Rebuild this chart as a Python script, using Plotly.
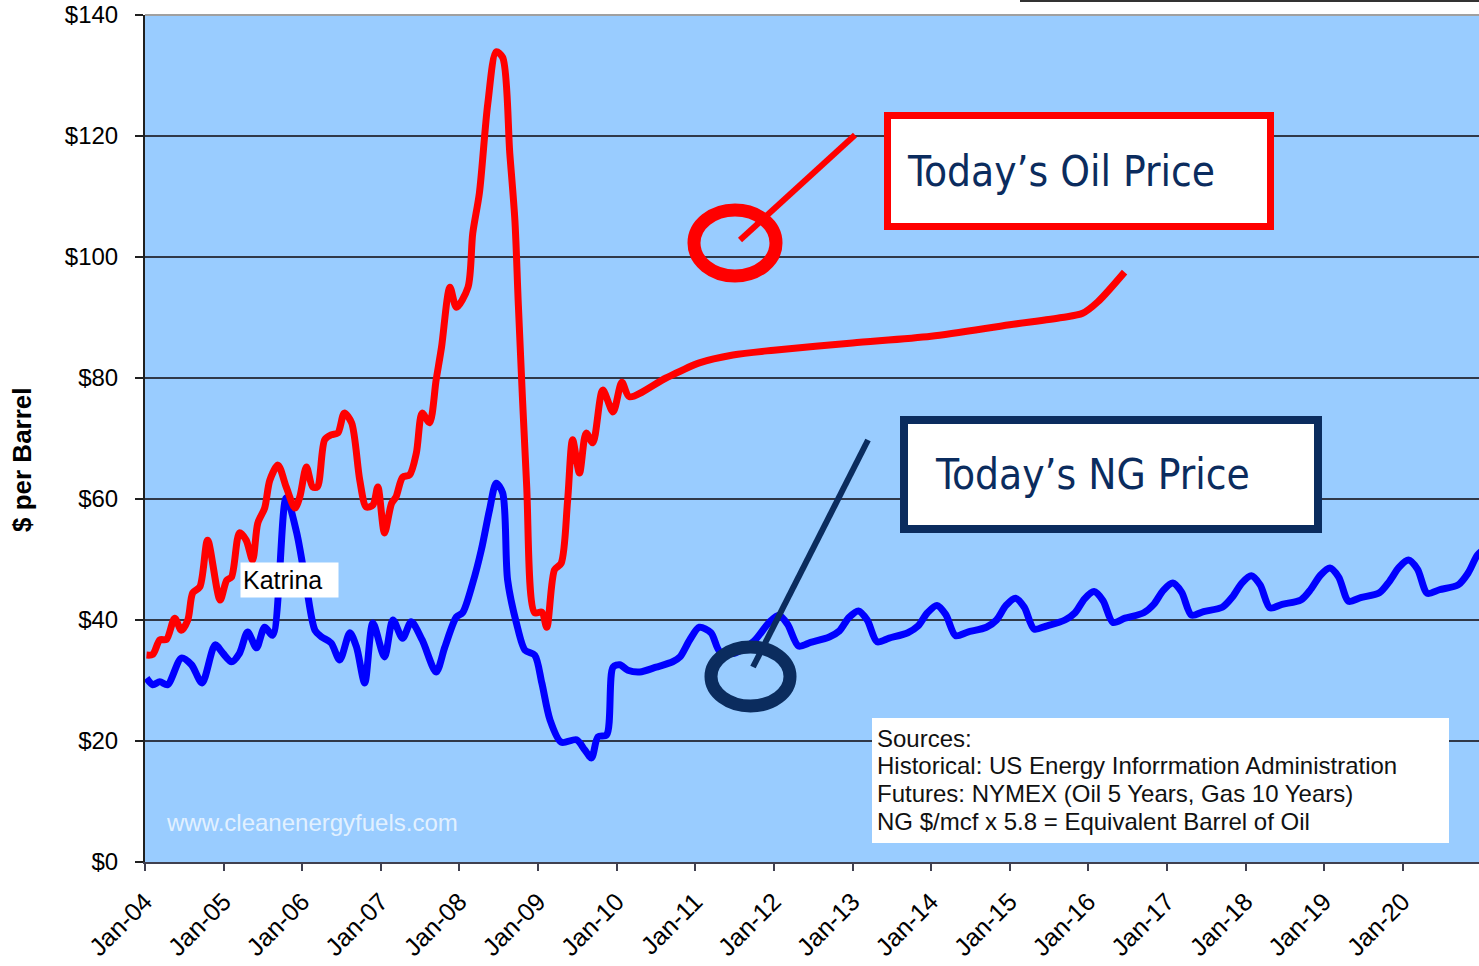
import plotly.graph_objects as go

# ---- data ($ per barrel equivalent) ----
oil_dates = [
    "2004-01-08", "2004-02-06", "2004-03-10", "2004-04-10", "2004-05-18", "2004-06-18",
    "2004-07-18", "2004-08-10", "2004-09-12", "2004-10-18", "2004-12-15", "2005-01-15",
    "2005-02-06", "2005-03-15", "2005-04-15", "2005-05-15", "2005-06-08", "2005-07-10",
    "2005-08-03", "2005-09-10", "2005-10-18", "2005-11-28", "2005-12-20", "2006-01-20",
    "2006-02-18", "2006-03-12", "2006-04-15", "2006-05-15", "2006-06-15", "2006-07-15",
    "2006-08-18", "2006-09-25", "2006-10-25", "2006-11-25", "2006-12-18", "2007-01-18",
    "2007-02-20", "2007-03-12", "2007-04-12", "2007-05-15", "2007-06-15", "2007-07-12",
    "2007-08-15", "2007-09-15", "2007-10-10", "2007-11-18", "2007-12-18", "2008-02-10",
    "2008-03-03", "2008-04-03", "2008-05-12", "2008-06-20", "2008-07-20", "2008-08-22",
    "2008-09-15", "2008-10-01", "2008-11-08", "2008-12-16", "2009-01-18", "2009-02-10",
    "2009-03-18", "2009-04-18", "2009-05-18", "2009-06-10", "2009-07-12", "2009-08-12",
    "2009-09-12", "2009-10-28", "2009-12-15", "2010-01-25", "2010-03-01", "2010-08-18",
    "2011-01-20", "2011-06-25", "2012-01-01", "2013-01-01", "2014-01-01", "2015-01-01",
    "2015-09-01", "2015-12-06", "2016-02-15", "2016-06-18",
]
oil_values = [
    34.2, 34.3, 36.7, 36.8, 40.3, 38.3,
    40.0, 44.5, 45.5, 53.2, 43.3, 46.6,
    47.1, 54.4, 53.2, 49.9, 56.0, 58.5,
    63.1, 65.6, 62.0, 58.5, 60.3, 65.3,
    62.0, 62.0, 69.8, 70.6, 70.9, 74.2,
    72.6, 63.1, 58.7, 59.0, 62.0, 54.4,
    59.3, 60.3, 63.6, 64.0, 67.6, 74.2,
    72.6, 79.7, 85.1, 95.0, 91.7, 95.0,
    103.9, 110.6, 125.4, 133.9, 133.0, 117.2,
    106.0, 92.0, 62.6, 41.2, 41.3, 38.8,
    48.3, 49.4, 59.8, 69.8, 64.3, 70.9,
    69.3, 78.0, 74.4, 79.3, 76.9, 80.0,
    82.5, 83.8, 84.6, 85.8, 86.9, 88.8,
    90.0, 90.7, 92.6, 97.5,
]

ng_dates = [
    "2004-01-08", "2004-02-06", "2004-03-10", "2004-04-15", "2004-06-18", "2004-08-04",
    "2004-09-22", "2004-11-22", "2004-12-28", "2005-02-06", "2005-03-15", "2005-04-22",
    "2005-06-02", "2005-07-10", "2005-08-16", "2005-10-18", "2005-12-06", "2006-01-20",
    "2006-03-01", "2006-04-01", "2006-05-15", "2006-06-24", "2006-08-10", "2006-09-10",
    "2006-10-18", "2006-11-25", "2007-01-18", "2007-02-26", "2007-04-12", "2007-05-22",
    "2007-07-12", "2007-09-15", "2007-10-25", "2007-12-18", "2008-01-16", "2008-03-03",
    "2008-04-12", "2008-05-20", "2008-06-20", "2008-07-20", "2008-08-12", "2008-09-22",
    "2008-11-01", "2008-12-16", "2009-01-18", "2009-02-25", "2009-04-18", "2009-06-28",
    "2009-08-06", "2009-09-06", "2009-10-06", "2009-11-15", "2009-12-15", "2010-01-15",
    "2010-02-22", "2010-04-18", "2010-07-03", "2010-09-18", "2010-10-22", "2010-12-06",
    "2011-01-20", "2011-03-15", "2011-04-25", "2011-07-01", "2011-10-01",
    "2011-12-10", "2012-01-25", "2012-03-05", "2012-04-25", "2012-06-20", "2012-09-15", "2012-11-01",
    "2012-12-15", "2013-01-28", "2013-03-10", "2013-04-25", "2013-06-20", "2013-09-15", "2013-11-01",
    "2013-12-15", "2014-01-28", "2014-03-10", "2014-04-25", "2014-06-20", "2014-09-15", "2014-11-01",
    "2014-12-15", "2015-01-28", "2015-03-10", "2015-04-25", "2015-06-20", "2015-09-15", "2015-11-01",
    "2015-12-15", "2016-01-28", "2016-03-10", "2016-04-25", "2016-06-20", "2016-09-15", "2016-11-01",
    "2016-12-15", "2017-01-28", "2017-03-10", "2017-04-25", "2017-06-20", "2017-09-15", "2017-11-01",
    "2017-12-15", "2018-01-28", "2018-03-10", "2018-04-25", "2018-06-20", "2018-09-15", "2018-11-01",
    "2018-12-15", "2019-01-28", "2019-03-10", "2019-04-25", "2019-06-20", "2019-09-15", "2019-11-01",
    "2019-12-15", "2020-01-28", "2020-03-10", "2020-04-25", "2020-06-20", "2020-09-15", "2020-11-01",
    "2020-12-15", "2021-01-28",
]
ng_values = [
    30.4, 29.3, 29.8, 29.3, 33.7, 32.6,
    29.6, 35.9, 34.5, 33.1, 34.5, 38.0,
    35.4, 38.8, 37.5, 60.2, 54.4, 45.5,
    38.3, 37.2, 36.2, 33.4, 37.9, 35.5,
    29.6, 39.5, 33.9, 40.0, 37.0, 39.7,
    36.7, 31.4, 35.5, 40.5, 41.2, 46.1,
    51.6, 58.2, 62.6, 61.0, 46.6, 39.5,
    35.0, 34.2, 29.6, 23.5, 19.8, 20.2,
    18.5, 17.2, 20.7, 21.0, 32.2, 32.6,
    31.7, 31.4, 32.2, 33.1, 33.9, 36.7,
    38.8, 37.9, 34.8, 34.5, 36.5,
    39.6, 40.8, 39.3, 35.7, 36.3, 37.2, 38.2,
    40.4, 41.5, 40.0, 36.4, 37.0, 37.9, 39.0,
    41.2, 42.4, 40.9, 37.4, 38.0, 38.8, 40.0,
    42.4, 43.6, 42.1, 38.5, 39.0, 40.0, 41.2,
    43.5, 44.7, 43.2, 39.6, 40.3, 41.2, 42.6,
    44.9, 46.1, 44.6, 40.8, 41.4, 42.1, 43.8,
    46.1, 47.3, 45.8, 42.0, 42.6, 43.3, 45.1,
    47.4, 48.6, 47.1, 43.1, 43.7, 44.5, 46.4,
    48.7, 49.9, 48.4, 44.4, 45.0, 45.8, 47.8,
    50.8, 52.0,
]

y_ticks = [0, 20, 40, 60, 80, 100, 120, 140]
y_tick_text = ["$0", "$20", "$40", "$60", "$80", "$100", "$120", "$140"]
x_range = ["2004-01-01", "2020-12-21"]

source_lines = [
    "Sources:",
    "Historical: US Energy Inforrmation Administration",
    "Futures: NYMEX (Oil 5 Years, Gas 10 Years)",
    "NG $/mcf x 5.8 = Equivalent Barrel of Oil",
]

# plot-area geometry (pixels) used to place the call-out graphics
W, H = 1479, 966
PL, PR, PT, PB = 145, 1479, 15, 862


def px(x):
    return (x - PL) / (PR - PL)


def py(y):
    return (PB - y) / (PB - PT)


ARIAL = "Liberation Sans, Arial, sans-serif"
CALLOUT = "DejaVu Sans Condensed, DejaVu Sans, sans-serif"
NAVY = "#0B2C5E"

fig = go.Figure()
fig.add_trace(go.Scatter(
    x=ng_dates, y=ng_values, mode="lines", name="NG",
    line=dict(color="#0000FF", width=7, shape="spline", smoothing=0.8),
))
fig.add_trace(go.Scatter(
    x=oil_dates, y=oil_values, mode="lines", name="Oil",
    line=dict(color="#FF0000", width=7, shape="spline", smoothing=0.8),
))

shapes = [
    # top border of plot area (hides the $140 grid line)
    dict(type="line", xref="paper", yref="paper", x0=0, x1=1, y0=1, y1=1,
         line=dict(color="#A0A0A0", width=2)),
    # partial box edge visible at the very top right
    dict(type="line", xref="paper", yref="paper", x0=px(1020), x1=1, y0=py(1), y1=py(1),
         line=dict(color="#333333", width=2)),
    # sources box
    dict(type="rect", xref="paper", yref="paper", x0=px(872), x1=px(1449), y0=py(843), y1=py(718),
         fillcolor="white", line=dict(width=0)),
    # oil call-out
    dict(type="line", xref="paper", yref="paper", x0=px(740), y0=py(240), x1=px(855), y1=py(135),
         line=dict(color="#FF0000", width=6)),
    dict(type="circle", xref="paper", yref="paper", x0=px(694), x1=px(776), y0=py(276), y1=py(210),
         line=dict(color="#FF0000", width=13)),
    dict(type="rect", xref="paper", yref="paper", x0=px(887.5), x1=px(1270.5), y0=py(226.5), y1=py(115.5),
         fillcolor="white", line=dict(color="#FF0000", width=7)),
    # NG call-out
    dict(type="line", xref="paper", yref="paper", x0=px(753), y0=py(667), x1=px(868), y1=py(440),
         line=dict(color=NAVY, width=6)),
    dict(type="circle", xref="paper", yref="paper", x0=px(711), x1=px(790), y0=py(706), y1=py(647),
         line=dict(color=NAVY, width=13)),
    dict(type="rect", xref="paper", yref="paper", x0=px(904), x1=px(1318), y0=py(529), y1=py(420),
         fillcolor="white", line=dict(color=NAVY, width=8)),
]

annotations = [
    dict(text="<b>$ per Barrel</b>", xref="paper", yref="paper", x=px(22), y=py(460),
         textangle=-90, showarrow=False, font=dict(family=ARIAL, size=26, color="black"),
         xanchor="center", yanchor="middle"),
    dict(text="Katrina", xref="paper", yref="paper", x=px(240), y=py(580),
         xanchor="left", yanchor="middle", showarrow=False, bgcolor="white",
         width=93, height=30, align="left", borderpad=2,
         font=dict(family=ARIAL, size=25, color="black")),
    dict(text="www.cleanenergyfuels.com", xref="paper", yref="paper", x=px(164), y=py(822),
         xanchor="left", yanchor="middle", showarrow=False,
         font=dict(family=ARIAL, size=24, color="rgba(236,246,255,0.9)")),
    dict(text="Today\u2019s Oil Price", xref="paper", yref="paper", x=px(905), y=py(171),
         xanchor="left", yanchor="middle", showarrow=False,
         font=dict(family=CALLOUT, size=42, color=NAVY)),
    dict(text="Today\u2019s NG Price", xref="paper", yref="paper", x=px(933), y=py(474),
         xanchor="left", yanchor="middle", showarrow=False,
         font=dict(family=CALLOUT, size=42, color=NAVY)),
]
for line, ypix in zip(source_lines, [738, 765, 793, 821]):
    annotations.append(dict(
        text=line, xref="paper", yref="paper", x=px(875), y=py(ypix),
        xanchor="left", yanchor="middle", showarrow=False,
        font=dict(family=ARIAL, size=24, color="#111111"),
    ))

fig.update_layout(
    width=W, height=H,
    margin=dict(l=PL, r=W - PR, t=PT, b=H - PB),
    paper_bgcolor="white",
    plot_bgcolor="#99CCFF",
    showlegend=False,
    shapes=shapes,
    annotations=annotations,
    xaxis=dict(
        type="date", range=x_range, tick0="2004-01-01", dtick="M12",
        tickformat="%b-%y", tickangle=-45, ticks="outside", ticklen=7,
        tickwidth=2, tickcolor="#404050", showline=True, linecolor="#404050",
        linewidth=2, showgrid=False, zeroline=False, ticklabelstandoff=6,
        tickfont=dict(family=ARIAL, size=25, color="black"),
    ),
    yaxis=dict(
        range=[0, 140], tickvals=y_ticks, ticktext=y_tick_text, ticks="outside",
        ticklen=8, tickwidth=2, tickcolor="#202020", showline=True,
        linecolor="#202020", linewidth=2, showgrid=True, gridcolor="#303848",
        gridwidth=1.5, zeroline=False, ticklabelstandoff=12,
        tickfont=dict(family=ARIAL, size=24, color="black"),
    ),
)

fig.write_html(
    "out.html",
    config={"displayModeBar": False},
    post_script="document.body.style.margin='0';document.body.style.overflow='hidden';",
)
